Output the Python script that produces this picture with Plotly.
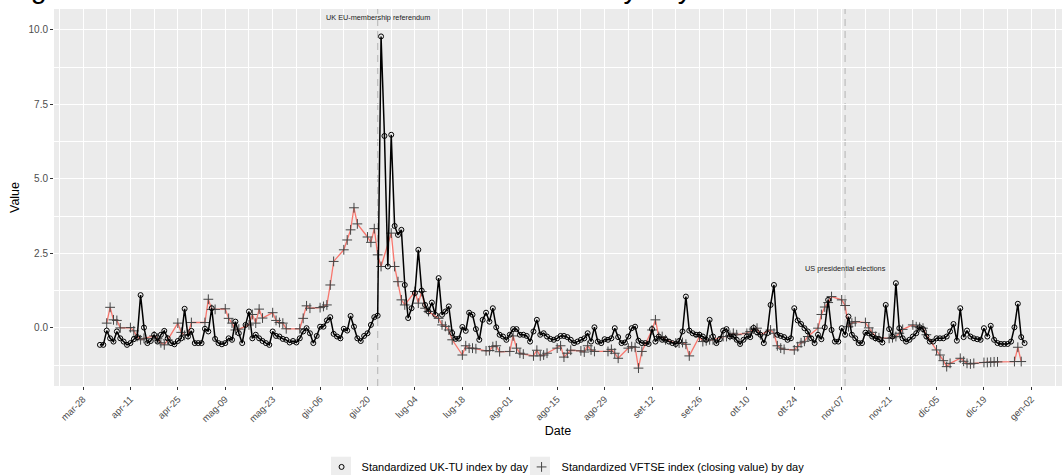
import pandas as pd
import plotly.graph_objects as go

# UK-TU index, daily from 2016-04-02 to 2016-12-31 (one list per month)
uktu_apr = [-0.57, -0.57, -0.09, -0.35, -0.46, -0.12, -0.35, -0.46, -0.57, -0.51,
            -0.38, -0.31, 1.10, 0.01, -0.51, -0.44, -0.23, -0.46, -0.23, -0.10,
            -0.35, -0.51, -0.55, -0.44, -0.35, 0.64, -0.29, -0.10, -0.51]
uktu_may = [-0.51, -0.51, -0.03, -0.12, 0.66, -0.37, -0.51, -0.55, -0.51, -0.35,
            -0.40, 0.21, -0.18, -0.51, 0.10, 0.55, -0.35, -0.23, -0.35, -0.44,
            -0.51, -0.57, -0.12, -0.27, -0.29, -0.37, -0.40, -0.49, -0.44, -0.49, -0.35]
uktu_jun = [-0.12, -0.01, -0.18, -0.51, -0.27, 0.04, 0.04, 0.25, 0.36, -0.20,
            -0.29, -0.35, -0.03, -0.09, 0.40, 0.04, -0.35, -0.44, -0.27, -0.18,
            0.10, 0.36, 0.41, 9.78, 6.44, 2.06, 6.48, 3.42, 3.12, 3.29]
uktu_jul = [1.44, 0.33, 0.66, 1.17, 2.62, 1.25, 0.77, 0.55, 0.85, 0.44,
            1.67, 0.44, 0.55, 0.72, -0.17, -0.37, -0.36, 0.03, -0.10, 0.51,
            0.44, -0.04, -0.40, 0.27, 0.51, 0.21, 0.66, 0.02, -0.23, -0.29, -0.40]
uktu_aug = [-0.23, -0.04, -0.04, -0.23, -0.23, -0.27, -0.46, -0.12, 0.27, -0.23,
            -0.18, -0.29, -0.37, -0.40, -0.35, -0.27, -0.27, -0.31, -0.40, -0.51,
            -0.46, -0.40, -0.35, -0.18, -0.46, 0.02, -0.46, -0.51, -0.38, -0.40, -0.35]
uktu_sep = [-0.01, -0.31, -0.51, -0.49, -0.29, -0.01, 0.04, -0.43, -0.51, -0.51,
            -0.54, -0.04, -0.46, -0.29, -0.40, -0.40, -0.46, -0.51, -0.54, -0.44,
            -0.12, 1.05, -0.09, -0.18, -0.23, -0.23, -0.29, -0.40, 0.27, -0.29]
uktu_oct = [-0.51, -0.38, -0.09, -0.04, -0.29, -0.29, -0.40, -0.54, -0.40, -0.29,
            -0.31, 0.00, -0.15, -0.23, -0.51, -0.18, 0.77, 1.44, -0.23, -0.27,
            -0.31, -0.40, -0.35, 0.66, 0.25, 0.13, -0.01, -0.12, -0.35, -0.51, -0.23]
uktu_nov = [-0.38, 0.02, 0.94, -0.07, -0.46, -0.46, -0.01, -0.23, 0.38, -0.23,
            -0.35, -0.51, -0.51, -0.16, -0.18, -0.29, -0.35, -0.38, -0.49, 0.77,
            -0.04, -0.29, 1.50, -0.01, -0.35, -0.46, -0.40, -0.29, -0.18, 0.02]
uktu_dec = [-0.04, -0.29, -0.46, -0.46, -0.35, -0.35, -0.35, -0.29, -0.12, 0.13,
            -0.43, 0.66, -0.31, -0.09, -0.29, -0.35, -0.38, -0.40, -0.01, -0.29,
            0.07, -0.40, -0.51, -0.54, -0.54, -0.54, -0.46, 0.02, 0.81, -0.31, -0.51]

# VFTSE closing value, London trading days from 2016-04-04 to 2016-12-30
vftse_apr = [0.16, 0.69, 0.27, 0.25, 0.00, 0.01, -0.10, -0.29, -0.40, -0.35,
             -0.27, -0.35, -0.50, -0.57, -0.40, 0.16, -0.15, -0.25, -0.22, 0.18]
vftse_may = [0.18, 0.96, 0.62, 0.62, 0.64, 0.32, 0.16, -0.07, -0.04, 0.10,
             0.45, 0.16, 0.63, 0.33, 0.51, 0.25, 0.18, 0.16, -0.03, -0.03]
vftse_jun = [0.32, 0.74, 0.66, 0.68, 0.72, 0.77, 1.44, 2.23, 2.62, 2.95,
             3.29, 4.03, 3.49, 3.05, 2.87, 3.33, 2.45, 2.06, 3.18, 2.06, 1.55, 0.94]
vftse_jul = [0.77, 1.22, 0.83, 1.22, 0.66, 0.55, 0.32, 0.10, 0.05, -0.07,
             -0.40, -0.91, -0.60, -0.68, -0.68, -0.70, -0.77, -0.76, -0.63, -0.60, -0.80]
vftse_aug = [-0.79, -0.27, -0.68, -0.85, -0.88, -0.94, -0.75, -0.94, -0.91, -0.85,
             -0.68, -0.60, -0.98, -0.85, -0.75, -0.77, -0.81, -0.60, -0.74, -0.79, -0.79, -0.72]
vftse_sep = [-0.85, -1.02, -0.68, -0.63, -0.65, -1.35, -0.79, -0.07, 0.27, -0.29,
             -0.29, -0.40, -0.51, -0.51, -0.49, -0.55, -0.94, -0.29, -0.46, -0.43, -0.40, -0.40]
vftse_oct = [-0.29, -0.29, -0.25, -0.18, -0.23, -0.18, -0.12, -0.04, -0.01, -0.23,
             -0.07, -0.18, -0.60, -0.68, -0.72, -0.74, -0.63, -0.50, -0.45, -0.29, -0.01]
vftse_nov = [0.45, 0.70, 0.85, 1.05, 0.94, 0.75, 0.04, 0.16, 0.21, 0.18,
             0.00, -0.15, -0.29, -0.33, -0.35, -0.33, -0.29, -0.18, -0.05, 0.10, 0.04, 0.02]
vftse_dec = [-0.01, -0.23, -0.74, -0.91, -1.10, -1.30, -1.19, -1.02, -1.12, -1.19,
             -1.21, -1.19, -1.16, -1.16, -1.15, -1.14, -1.14, -1.13, -0.65, -1.13]
uk_holidays = ["2016-05-02", "2016-05-30", "2016-08-29", "2016-12-26", "2016-12-27"]

tick_labels = ["mar-28", "apr-11", "apr-25", "mag-09", "mag-23", "giu-06", "giu-20",
               "lug-04", "lug-18", "ago-01", "ago-15", "ago-29", "set-12", "set-26",
               "ott-10", "ott-24", "nov-07", "nov-21", "dic-05", "dic-19", "gen-02"]

events = ["2016-06-23", "2016-11-08"]
event_labels = ["UK EU-membership referendum", "US presidential elections"]
event_label_y = [10.4, 2.0]

uktu = (uktu_apr + uktu_may + uktu_jun + uktu_jul + uktu_aug + uktu_sep
        + uktu_oct + uktu_nov + uktu_dec)
vftse = (vftse_apr + vftse_may + vftse_jun + vftse_jul + vftse_aug + vftse_sep
         + vftse_oct + vftse_nov + vftse_dec)
uktu_dates = pd.date_range("2016-04-02", "2016-12-31", freq="D")
vftse_dates = pd.bdate_range("2016-04-04", "2016-12-30", freq="C", holidays=uk_holidays)
tick_dates = pd.date_range("2016-03-28", periods=len(tick_labels), freq="14D")

font = "Liberation Sans, Arial, sans-serif"
name_uktu = "Standardized UK-TU index by day"
name_vftse = "Standardized VFTSE index (closing value) by day"
plus_grey = "#444444"

fig = go.Figure()

fig.add_trace(go.Scatter(
    x=vftse_dates, y=vftse, mode="lines+markers", showlegend=False,
    line=dict(color="#F8766D", width=1.3),
    marker=dict(symbol="cross-thin-open", size=7, color=plus_grey,
                line=dict(color=plus_grey, width=1)),
))
fig.add_trace(go.Scatter(
    x=uktu_dates, y=uktu, mode="lines+markers", showlegend=False,
    line=dict(color="black", width=1.5),
    marker=dict(symbol="circle-open", size=5, color="black", line=dict(width=1)),
))
# legend-only entries (ggplot style keys show the point shape only)
fig.add_trace(go.Scatter(
    x=[None], y=[None], mode="markers", name=name_uktu,
    marker=dict(symbol="circle-open", size=5, color="black", line=dict(width=1)),
))
fig.add_trace(go.Scatter(
    x=[None], y=[None], mode="markers", name=name_vftse,
    marker=dict(symbol="cross-thin-open", size=7, color=plus_grey,
                line=dict(color=plus_grey, width=1)),
))
# empty spacer entry so the fixed entry width does not clip the last label
fig.add_trace(go.Scatter(
    x=[None], y=[None], mode="markers", name=" ",
    marker=dict(size=1, opacity=0),
))

for d, txt, ty in zip(events, event_labels, event_label_y):
    fig.add_shape(type="line", xref="x", yref="paper", x0=d, x1=d, y0=0, y1=1,
                  layer="between", line=dict(color="#BDBDBD", width=1.2, dash="7px,5px"))
    fig.add_annotation(x=d, y=ty, text=txt, showarrow=False,
                       font=dict(size=7.3, color="#222222", family=font))

# grey legend key boxes behind the legend symbols
for x0, x1 in [(0.2748, 0.2946), (0.4722, 0.4921)]:
    fig.add_shape(type="rect", xref="paper", yref="paper", x0=x0, x1=x1,
                  y0=-0.25, y1=-0.1875, layer="above",
                  fillcolor="#EDEDED", line=dict(width=0))

# title of the original figure, cropped off at the top edge
fig.add_annotation(xref="paper", yref="paper", x=-0.0486, y=1.057, xanchor="left",
                   yanchor="middle", showarrow=False,
                   text="Fig. 2 - Standardized UK-TU and VFTSE index by day",
                   font=dict(size=28.6, color="black", family=font))

fig.update_layout(
    width=1062, height=475,
    margin=dict(l=54, r=0, t=9, b=89),
    paper_bgcolor="white", plot_bgcolor="#EBEBEB",
    font=dict(family=font, color="black"),
    legend=dict(orientation="h", xref="container", yref="container",
                x=0.3028, xanchor="left", y=0.017, yanchor="middle",
                font=dict(size=11, color="black"), itemwidth=30,
                entrywidth=155, bgcolor="rgba(0,0,0,0)"),
    xaxis=dict(
        range=["2016-03-19 10:30", "2017-01-11 01:00"],
        tickvals=tick_dates, ticktext=tick_labels, tickangle=-45,
        tickfont=dict(size=9.5, color="#4D4D4D"),
        ticks="outside", ticklen=3, tickcolor="#333333",
        showgrid=True, gridcolor="white", gridwidth=1.3, zeroline=False,
        showline=False,
        minor=dict(dtick=7 * 86400000, tick0="2016-03-21", showgrid=True,
                   gridcolor="white", gridwidth=0.6),
        title=dict(text="Date", font=dict(size=12.5, color="black"), standoff=3),
    ),
    yaxis=dict(
        range=[-1.95, 10.70],
        tickvals=[0, 2.5, 5, 7.5, 10], ticktext=["0.0", "2.5", "5.0", "7.5", "10.0"],
        tickfont=dict(size=10, color="#4D4D4D"),
        ticks="outside", ticklen=3, tickcolor="#333333",
        showgrid=True, gridcolor="white", gridwidth=1.3, zeroline=False,
        minor=dict(dtick=1.25, tick0=0, showgrid=True, gridcolor="white", gridwidth=0.6),
        title=dict(text="Value", font=dict(size=12.5, color="black"), standoff=6),
    ),
)

# the page body has a default 8px margin; drop it so the figure fills the window
fig.write_html("out.html", config={"displayModeBar": False},
               post_script="document.body.style.margin = '0px';")
